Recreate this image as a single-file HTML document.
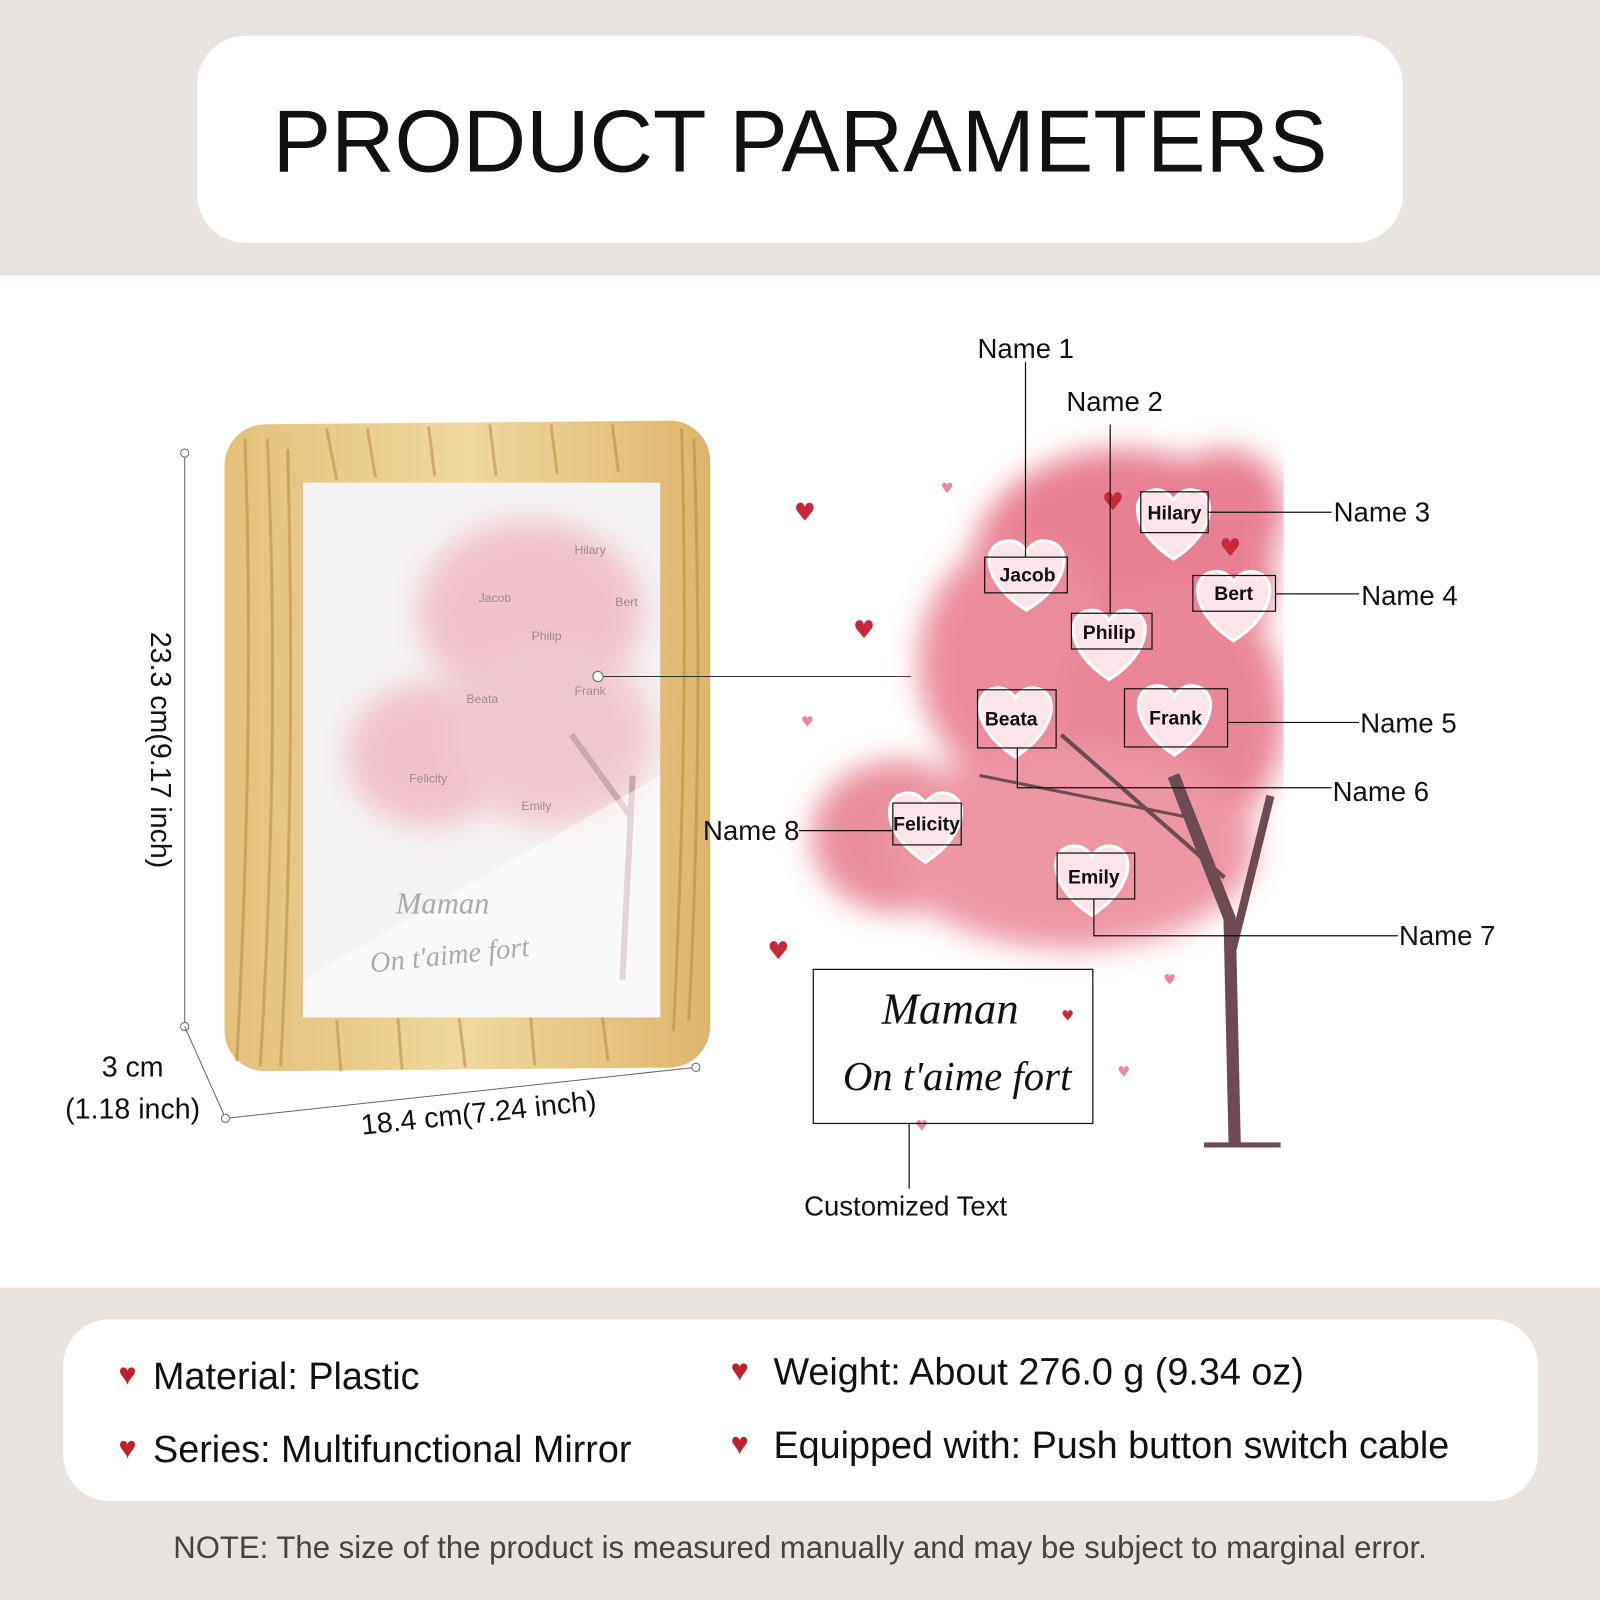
<!DOCTYPE html>
<html><head><meta charset="utf-8"><style>
html,body{margin:0;padding:0;width:1600px;height:1600px;overflow:hidden;background:#fff}
#w{position:absolute;left:0;top:0;width:1568px;height:1568px;transform:scale(1.0204);transform-origin:0 0;font-family:"Liberation Sans","DejaVu Sans",sans-serif}
.t{position:absolute;white-space:nowrap}
</style></head><body><div id="w">
<div style="position:absolute;left:0;top:0;width:1568px;height:270px;background:#e8e3de"></div>
<div style="position:absolute;left:0;top:1262px;width:1568px;height:306px;background:#e8e3de"></div>
<div style="position:absolute;left:193px;top:35px;width:1182px;height:203px;background:#fff;border-radius:48px"></div>
<div class="t" style="left:193px;width:1182px;top:84px;text-align:center;font-size:86px;line-height:110px;color:#111">PRODUCT PARAMETERS</div>
<div style="position:absolute;left:62px;top:1293px;width:1445px;height:178px;background:#fff;border-radius:45px"></div>
<div class="t" style="left:150px;top:1328px;font-size:37px;color:#111">Material: Plastic</div>
<div class="t" style="left:150px;top:1400px;font-size:37px;color:#111">Series: Multifunctional Mirror</div>
<div class="t" style="left:758px;top:1324px;font-size:37px;color:#111">Weight: About 276.0 g (9.34 oz)</div>
<div class="t" style="left:758px;top:1396px;font-size:37px;color:#111">Equipped with: Push button switch cable</div>
<div class="t" style="left:116px;top:1331px;font-size:30px;color:#c0202a">♥</div>
<div class="t" style="left:116px;top:1403px;font-size:30px;color:#c0202a">♥</div>
<div class="t" style="left:716px;top:1327px;font-size:30px;color:#c0202a">♥</div>
<div class="t" style="left:716px;top:1399px;font-size:30px;color:#c0202a">♥</div>
<div class="t" style="left:0;width:1568px;text-align:center;top:1500px;font-size:30.5px;color:#444">NOTE: The size of the product is measured manually and may be subject to marginal error.</div>

<svg style="position:absolute;left:0;top:0" width="1568" height="1568" viewBox="0 0 1568 1568">
<defs>
<filter id="b"><feGaussianBlur stdDeviation="14"/></filter>
<linearGradient id="wood" x1="0" x2="1"><stop offset="0" stop-color="#e2c07a"/><stop offset=".5" stop-color="#f0d89e"/><stop offset="1" stop-color="#ddb56c"/></linearGradient>
</defs>
<rect x="220" y="418" width="476" height="634" rx="40" fill="url(#wood)" transform="skewY(-0.5)"/>
<g stroke="#b98a3e" stroke-width="3" fill="none" opacity=".55">
<path d="M240 430 Q250 700 232 1040"/><path d="M262 430 Q275 720 255 1045"/><path d="M282 440 Q290 760 275 1045"/>
<path d="M668 420 Q676 700 660 1010"/><path d="M680 430 Q690 720 675 1000"/>
<path d="M320 420 L330 470"/><path d="M360 420 L368 468"/><path d="M420 418 L426 466"/><path d="M480 416 L486 466"/><path d="M540 416 L546 464"/><path d="M600 416 L606 462"/>
<path d="M330 1000 L334 1050"/><path d="M390 998 L394 1048"/><path d="M450 998 L456 1046"/><path d="M520 996 L524 1044"/><path d="M590 994 L596 1040"/>
</g>
<rect x="297" y="473" width="350" height="524" fill="#f4f2f2"/>
<g filter="url(#b)" opacity=".55">
<ellipse cx="520" cy="600" rx="110" ry="90" fill="#ef9bae"/>
<ellipse cx="420" cy="740" rx="80" ry="70" fill="#ef9bae"/>
<ellipse cx="540" cy="720" rx="100" ry="90" fill="#f2a7b6"/>
</g>
<path d="M610 960 L620 760 M618 800 L560 720" stroke="#c9a9ad" stroke-width="6" fill="none"/>
<path d="M297 960 L647 760 L647 997 L297 997Z" fill="#fff" opacity=".5"/>
<g font-size="12" fill="#9a8a8a" font-family="Liberation Sans">
<text x="563" y="543">Hilary</text><text x="469" y="590">Jacob</text><text x="603" y="594">Bert</text><text x="521" y="627">Philip</text><text x="457" y="689">Beata</text><text x="563" y="681">Frank</text><text x="401" y="767">Felicity</text><text x="511" y="794">Emily</text>
</g>
<text x="388" y="895" font-family="Liberation Serif" font-style="italic" font-size="30" fill="#aaa">Maman</text>
<text x="362" y="945" font-family="Liberation Serif" font-style="italic" font-size="28" fill="#aaa" transform="rotate(-6 440 935)">On t'aime fort</text>
<g stroke="#666" stroke-width="1" fill="#fff">
<line x1="181" y1="444" x2="181" y2="1006"/><circle cx="181" cy="444" r="4"/><circle cx="181" cy="1006" r="4"/>
<line x1="181" y1="1006" x2="221" y2="1096"/><line x1="221" y1="1096" x2="682" y2="1046"/><circle cx="221" cy="1096" r="4"/><circle cx="682" cy="1046" r="4"/>
<line x1="586" y1="663" x2="893" y2="663" stroke="#333"/><circle cx="586" cy="663" r="5"/>
</g>
<text x="148" y="735" font-size="28" fill="#111" transform="rotate(90 148 735)" text-anchor="middle">23.3 cm(9.17 inch)</text>
<text x="130" y="1055" font-size="28" fill="#111" text-anchor="middle">3 cm</text>
<text x="130" y="1096" font-size="28" fill="#111" text-anchor="middle">(1.18 inch)</text>
<text x="470" y="1100" font-size="28" fill="#111" text-anchor="middle" transform="rotate(-6 470 1100)">18.4 cm(7.24 inch)</text>
<g filter="url(#b)" opacity=".85">
<ellipse cx="1100" cy="560" rx="150" ry="120" fill="#e46b80"/>
<ellipse cx="1000" cy="650" rx="100" ry="120" fill="#e8788b"/>
<ellipse cx="1150" cy="700" rx="110" ry="130" fill="#e57286"/>
<ellipse cx="880" cy="820" rx="85" ry="75" fill="#e57a8c"/>
<ellipse cx="1050" cy="830" rx="180" ry="100" fill="#ea8495"/>
<ellipse cx="1200" cy="500" rx="60" ry="60" fill="#e46b80"/>
</g>
<rect x="1258" y="430" width="40" height="560" fill="#fff"/>
<g stroke="#6e4a52" fill="none">
<path d="M1210 1122 L1205 900 L1150 760" stroke-width="12"/><path d="M1208 930 L1245 780" stroke-width="8"/><path d="M1200 860 L1040 720" stroke-width="4"/><path d="M1160 800 L960 760" stroke-width="3"/>
<path d="M1180 1122 L1255 1122" stroke-width="5"/>
</g>
<g font-family="DejaVu Sans" fill="#c8283a" font-size="24"><text x="778" y="510">♥</text><text x="836" y="625">♥</text><text x="752" y="940">♥</text><text x="1080" y="500">♥</text><text x="1195" y="545">♥</text></g>
<g font-family="DejaVu Sans" fill="#e98a9a" font-size="14"><text x="922" y="483">♥</text><text x="785" y="712">♥</text><text x="1140" y="965">♥</text><text x="1095" y="1055">♥</text><text x="897" y="1108">♥</text></g>
<g fill="#fbe4ea" stroke="#fff" stroke-width="3">
<path d="M1006 598 C960 570 960 530 990 530 C1000 530 1006 540 1006 540 C1006 540 1012 530 1022 530 C1052 530 1052 570 1006 598Z"/>
<path d="M1150 548 C1106 520 1106 480 1134 480 C1144 480 1150 490 1150 490 C1150 490 1156 480 1166 480 C1194 480 1194 520 1150 548Z"/>
<path d="M1209 628 C1165 600 1165 560 1193 560 C1203 560 1209 570 1209 570 C1209 570 1215 560 1225 560 C1253 560 1253 600 1209 628Z"/>
<path d="M1087 666 C1043 638 1043 598 1071 598 C1081 598 1087 608 1087 608 C1087 608 1093 598 1103 598 C1131 598 1131 638 1087 666Z"/>
<path d="M995 742 C951 714 951 674 979 674 C989 674 995 684 995 684 C995 684 1001 674 1011 674 C1039 674 1039 714 995 742Z"/>
<path d="M1151 740 C1107 712 1107 672 1135 672 C1145 672 1151 682 1151 682 C1151 682 1157 672 1167 672 C1195 672 1195 712 1151 740Z"/>
<path d="M907 845 C863 817 863 777 891 777 C901 777 907 787 907 787 C907 787 913 777 923 777 C951 777 951 817 907 845Z"/>
<path d="M1070 897 C1026 869 1026 829 1054 829 C1064 829 1070 839 1070 839 C1070 839 1076 829 1086 829 C1114 829 1114 869 1070 897Z"/>
</g>
<g fill="none" stroke="#111" stroke-width="1.2">
<rect x="965" y="546" width="81" height="35"/><rect x="1118" y="482" width="66" height="40"/><rect x="1169" y="564" width="81" height="35"/><rect x="1050" y="601" width="79" height="35"/>
<rect x="958" y="676" width="77" height="57"/><rect x="1102" y="675" width="101" height="57"/><rect x="875" y="787" width="67" height="41"/><rect x="1036" y="836" width="76" height="45"/>
<rect x="797" y="950" width="274" height="151"/>
<polyline points="1005,355 1005,546"/><polyline points="1088,416 1088,601"/><polyline points="1184,502 1305,502"/><polyline points="1250,582 1332,582"/>
<polyline points="1203,708 1332,708"/><polyline points="997,733 997,772 1305,772"/><polyline points="783,814 875,814"/><polyline points="1072,881 1072,917 1370,917"/><polyline points="891,1101 891,1165"/>
</g>
<g font-family="Liberation Sans" font-weight="bold" font-size="19" fill="#111" text-anchor="middle">
<text x="1007" y="570">Jacob</text><text x="1151" y="509">Hilary</text><text x="1209" y="588">Bert</text><text x="1087" y="626">Philip</text><text x="991" y="711">Beata</text><text x="1152" y="710">Frank</text><text x="908" y="814">Felicity</text><text x="1072" y="866">Emily</text>
</g>
<g font-size="27" fill="#111">
<text x="958" y="351">Name 1</text><text x="1045" y="403">Name 2</text><text x="1307" y="511">Name 3</text><text x="1334" y="593">Name 4</text><text x="1333" y="718">Name 5</text><text x="1306" y="785">Name 6</text><text x="1371" y="926">Name 7</text><text x="689" y="823">Name 8</text>
<text x="788" y="1191">Customized Text</text>
</g>
<text x="864" y="1003" font-family="Liberation Serif" font-style="italic" font-size="44" fill="#111">Maman</text>
<text x="826" y="1068" font-family="Liberation Serif" font-style="italic" font-size="40" fill="#111">On t'aime fort</text>
<text x="1040" y="1000" font-family="DejaVu Sans" font-size="14" fill="#c8283a">♥</text>
</svg>
</div></body></html>
